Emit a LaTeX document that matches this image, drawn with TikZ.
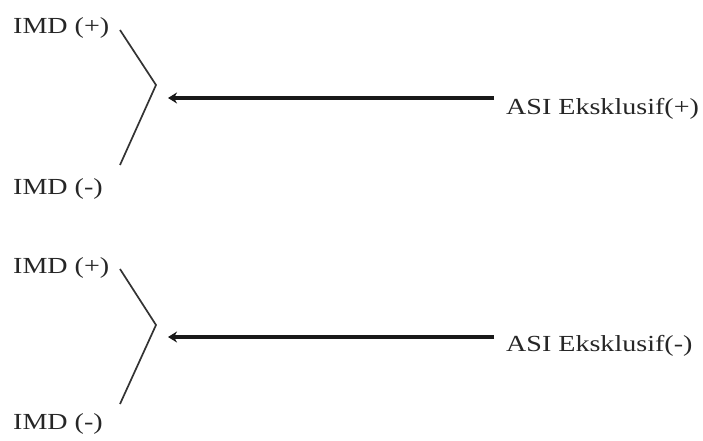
\documentclass[tikz,border=0pt]{standalone}
\usepackage{fontspec}
\setmainfont[FakeStretch=1.22]{Liberation Serif}
\usetikzlibrary{arrows.meta}
\tikzset{
  lbl/.style={inner sep=0pt, anchor=west, text=black!85, font=\fontsize{23}{25}\selectfont},
  br/.style={line width=1.7pt, draw=black!80},
  arr/.style={line width=3.6pt, draw=black!90, -{Stealth[length=9pt,width=11pt]}}
}
\begin{document}
\begin{tikzpicture}[x=1pt,y=-1pt]
\useasboundingbox (0,0) rectangle (703,441);
% top group
\node[lbl] (p1) at (13,28) {IMD (+)};
\node[lbl] (m1) at (13,189) {IMD (-)};
\node[lbl] (a1) at (506,109) {ASI Eksklusif(+)};
\coordinate (u1) at (120,30);
\coordinate (v1) at (156,85);
\coordinate (w1) at (120,165);
\coordinate (s1) at (494,98);
\coordinate (t1) at (168,98);
\draw[br] (u1) -- (v1) -- (w1);
\draw[arr] (s1) -- (t1);
% bottom group
\node[lbl] (p2) at (13,268) {IMD (+)};
\node[lbl] (m2) at (13,424) {IMD (-)};
\node[lbl] (a2) at (506,346) {ASI Eksklusif(-)};
\coordinate (u2) at (120,269);
\coordinate (v2) at (156,325);
\coordinate (w2) at (120,404);
\coordinate (s2) at (494,337);
\coordinate (t2) at (168,337);
\draw[br] (u2) -- (v2) -- (w2);
\draw[arr] (s2) -- (t2);
\end{tikzpicture}
\end{document}
